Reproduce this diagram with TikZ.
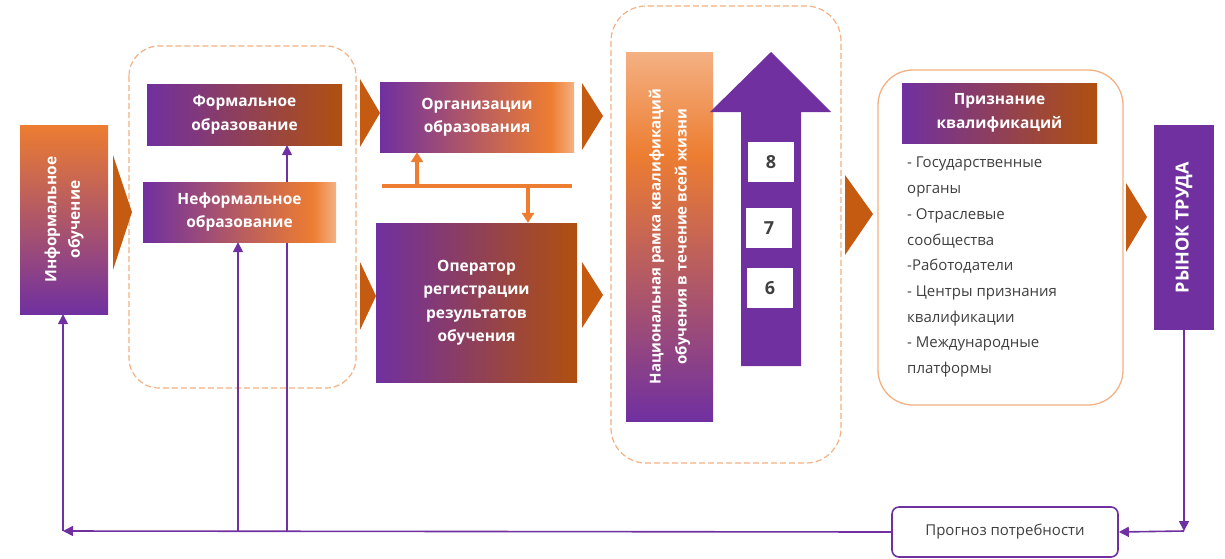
\documentclass[tikz,border=0pt]{standalone}
\usepackage{fontspec}
\setmainfont{Open Sans}
\usetikzlibrary{arrows.meta,calc}
\definecolor{cpur}{HTML}{7030A0}
\definecolor{cdor}{HTML}{C55A11}
\definecolor{cora}{HTML}{ED7D31}
\definecolor{clt}{HTML}{F4B183}
\definecolor{cbrn}{HTML}{B0500F}
\definecolor{cgray}{HTML}{404040}
\definecolor{cdash}{HTML}{F4B183}
\pgfdeclarehorizontalshading{hnf}{100bp}{color(0bp)=(cpur); color(25bp)=(cpur); color(69bp)=(cora); color(75bp)=(clt); color(100bp)=(clt)}
\pgfdeclarehorizontalshading{hbr}{100bp}{color(0bp)=(cpur); color(25bp)=(cpur); color(75bp)=(cbrn); color(100bp)=(cbrn)}
\pgfdeclareverticalshading{vnrk}{100bp}{color(0bp)=(cpur); color(25bp)=(cpur); color(61bp)=(cora); color(75bp)=(clt); color(100bp)=(clt)}
\tikzset{
  boxn/.style={draw=none, inner sep=0pt, shade},
  flatbox/.style={draw=none, inner sep=0pt, fill=cpur},
  lbl/.style={inner sep=0pt, text=white, align=center, font=\bfseries\fontsize{15.5}{23.5}\selectfont},
  dashbox/.style={draw=cdash, line width=1.2pt, dash pattern=on 6pt off 3pt},
  chev/.style={fill=cdor, draw=none},
  parr/.style={draw=cpur, line width=1.6pt, -{Triangle[length=10pt,width=10pt]}},
  oline/.style={draw=cora, line width=3.2pt},
  oarr/.style={draw=cora, line width=3.2pt, -{Triangle[length=10pt,width=12pt]}},
  numbox/.style={fill=white, draw=none, inner sep=0pt, minimum width=46pt, minimum height=40pt, text=cgray, font=\bfseries\fontsize{18}{20}\selectfont},
}
\begin{document}
\begin{tikzpicture}[x=1pt,y=-1pt]
\useasboundingbox[fill=white] (0,0) rectangle (1225,558);

% dashed groups and solid rounded group
\draw[dashbox, rounded corners=30pt] (129,46) rectangle (356,388);
\draw[dashbox, rounded corners=35pt] (611,6) rectangle (841,463);
\draw[draw=clt, line width=1.3pt, rounded corners=35pt] (878,70) rectangle (1123,405);

% chevrons
\fill[chev] (113,155) -- (132,212) -- (113,270) -- cycle;
\fill[chev] (360,79) -- (380,113) -- (360,147) -- cycle;
\fill[chev] (360,262) -- (376,296) -- (360,330) -- cycle;
\fill[chev] (582,83) -- (603,116) -- (582,150) -- cycle;
\fill[chev] (582,262) -- (603,295) -- (582,328) -- cycle;
\fill[chev] (845,175) -- (873,214) -- (845,255) -- cycle;
\fill[chev] (1126,183) -- (1147,217) -- (1126,252) -- cycle;

% informal
\node[boxn, top color=cora, bottom color=cpur, minimum width=88pt, minimum height=189pt] (info) at (64,219.5) {};
\node[lbl, rotate=90] (infot) at (info) {Информальное\\обучение};

% formal
\node[boxn, shading=hbr, minimum width=195pt, minimum height=61pt] (formal) at (244.5,114.5) {};
\node[lbl] (formalt) at (formal) {Формальное\\образование};

% line behind nonformal up to formal
\coordinate (c4) at (287,531);
\draw[parr] (c4) -- (c4 |- formal.south);

% nonformal
\node[boxn, shading=hnf, minimum width=193pt, minimum height=60pt] (nonf) at (239.5,212) {};
\node[lbl] (nonft) at (nonf) {Неформальное\\образование};

% organizations
\node[boxn, shading=hnf, minimum width=194pt, minimum height=70pt] (org) at (477,117) {};
\node[lbl] (orgt) at (org) {Организации\\образования};

% operator
\node[boxn, shading=hbr, minimum width=201pt, minimum height=159pt] (oper) at (476.5,302.5) {};
\node[lbl] (opert) at (oper) {Оператор\\регистрации\\результатов\\обучения};

% orange bus
\coordinate (bl) at (382,186);
\coordinate (br) at (572,186);
\coordinate (bu) at (417,186);
\coordinate (bd) at (528,186);
\draw[oline] (bl) -- (br);
\draw[oarr] (bu) -- (bu |- org.south);
\draw[oarr] (bd) -- (bd |- oper.north);

% NRK
\node[boxn, shading=vnrk, minimum width=87pt, minimum height=369pt] (nrk) at (669.5,236.5) {};
\node[lbl, rotate=90, font=\bfseries\fontsize{15}{26}\selectfont] (nrkt) at (nrk) {Национальная рамка квалификаций\\обучения в течение всей жизни};

% big arrow
\fill[cpur] (741,366) -- (741,112) -- (710,112) -- (771,52) -- (831,112) -- (801,112) -- (801,366) -- cycle;
\node[numbox] (n8) at (771,162) {8};
\node[numbox] (n7) at (769,228) {7};
\node[numbox] (n6) at (770,288) {6};

% recognition
\node[boxn, shading=hbr, minimum width=195pt, minimum height=60pt] (priz) at (999.5,113) {};
\node[lbl] (prizt) at (priz) {Признание\\квалификаций};
\node[anchor=north west, inner sep=0pt, align=left, text=cgray, font=\fontsize{15}{25.7}\selectfont] (list) at (907,157) {- Государственные\\органы\\- Отраслевые\\сообщества\\-Работодатели\\- Центры признания\\квалификации\\- Международные\\платформы};

% labour market
\node[flatbox, minimum width=60pt, minimum height=205pt] (rynok) at (1184,227.5) {};
\node[lbl, rotate=90, font=\bfseries\fontsize{18}{20}\selectfont] (rynokt) at (rynok) {РЫНОК ТРУДА};

% forecast
\node[draw=cpur, line width=1.6pt, fill=white, rounded corners=7pt, minimum width=226pt, minimum height=50pt, text=cgray, font=\fontsize{15}{18}\selectfont] (prog) at (1005,532) {Прогноз потребности};

% purple feedback connectors
\coordinate (c1) at (1184,531);
\coordinate (c2) at (63,531);
\coordinate (c3) at (238,531);
\draw[parr] (rynok.south) -- (c1);
\draw[parr] (c1) -- (prog.east);
\draw[parr] (prog.west) -- (c2);
\draw[parr] (c2) -- (c2 |- info.south);
\draw[parr] (c3) -- (c3 |- nonf.south);
\end{tikzpicture}
\end{document}
